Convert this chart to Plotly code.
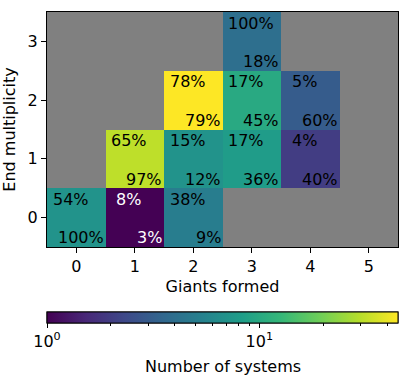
import math
import plotly.graph_objects as go

# ---- data ----
giants_formed = [0, 1, 2, 3, 4, 5]
end_multiplicity = [0, 1, 2, 3]

# number of systems per cell (rows = end multiplicity, cols = giants formed)
counts = [
    [7, 1, 5, None, None, None],
    [None, 31, 7, 8, 2, None],
    [None, None, 45, 10, 3, None],
    [None, None, None, 4, None, None],
]

# percentage within row (shown top-left)
row_pct = [
    ["54%", " 8%", "38%", None, None, None],
    [None, "65%", "15%", "17%", " 4%", None],
    [None, None, "78%", "17%", " 5%", None],
    [None, None, None, "100%", None, None],
]

# percentage within column (shown bottom-right)
col_pct = [
    ["100%", "3%", "9%", None, None, None],
    [None, "97%", "12%", "36%", "40%", None],
    [None, None, "79%", "45%", "60%", None],
    [None, None, None, "18%", None, None],
]

cbar_major = [1, 10]
cbar_minor = [2, 3, 4, 5, 6, 7, 8, 9, 20, 30, 40]
cbar_title = "Number of systems"

# ---- figure ----
FONT = "DejaVu Sans"
FS = 16

zlog = [[(math.log10(v) if v is not None else None) for v in row] for row in counts]
zmax = max(v for row in counts for v in row if v is not None)
zmax_log = math.log10(zmax)

major_vals = [math.log10(v) for v in cbar_major]
major_text = ["10<sup>%d</sup>" % round(v) for v in major_vals]
minor_vals = [math.log10(v) for v in cbar_minor]

cb_common = dict(
    orientation="h",
    x=0.5, xanchor="center", len=1.0, lenmode="fraction",
    y=-0.275, yanchor="top", ypad=0, xpad=0,
    thickness=11,
    outlinewidth=1, outlinecolor="black",
    tickangle=0, ticks="outside", tickcolor="black", tickwidth=1,
    tickfont=dict(family=FONT, size=FS, color="black"),
)

fig = go.Figure()
# main heatmap with major colorbar ticks and labels
fig.add_trace(go.Heatmap(
    x=giants_formed, y=end_multiplicity, z=zlog,
    colorscale="Viridis", zmin=0, zmax=zmax_log,
    hoverongaps=False,
    colorbar=dict(
        **cb_common,
        tickmode="array", tickvals=major_vals, ticktext=major_text,
        ticklen=5,
    ),
))
# identical overlay providing the colorbar's minor ticks
fig.add_trace(go.Heatmap(
    x=giants_formed, y=end_multiplicity, z=zlog,
    colorscale="Viridis", zmin=0, zmax=zmax_log,
    hoverinfo="skip",
    colorbar=dict(
        **cb_common,
        tickmode="array", tickvals=minor_vals,
        ticktext=[""] * len(minor_vals),
        ticklen=3,
    ),
))

annotations = []
for yi, yv in enumerate(end_multiplicity):
    for xi, xv in enumerate(giants_formed):
        c = counts[yi][xi]
        if c is None:
            continue
        color = "white" if math.log10(c) < 0.1 * zmax_log else "black"
        tl = row_pct[yi][xi]
        br = col_pct[yi][xi]
        if tl is not None:
            annotations.append(dict(
                x=xv - 0.44, y=yv + 0.31, xref="x", yref="y",
                text=tl.replace(" ", "\u00a0"), showarrow=False,
                xanchor="left", yanchor="middle",
                font=dict(family=FONT, size=FS, color=color)))
        if br is not None:
            annotations.append(dict(
                x=xv + 0.5, y=yv - 0.345, xref="x", yref="y",
                text=br, showarrow=False,
                xanchor="right", yanchor="middle",
                font=dict(family=FONT, size=FS, color=color)))

# colorbar title
annotations.append(dict(
    x=0.5, y=-0.51, xref="paper", yref="paper",
    text=cbar_title, showarrow=False,
    xanchor="center", yanchor="middle",
    font=dict(family=FONT, size=FS, color="black")))

fig.update_layout(
    width=411, height=376,
    margin=dict(l=47, r=13, t=12, b=129, autoexpand=False),
    plot_bgcolor="#808080", paper_bgcolor="white",
    font=dict(family=FONT, size=FS, color="black"),
    annotations=annotations,
    xaxis=dict(
        range=[-0.5, 5.5], tickmode="array", tickvals=giants_formed,
        ticks="outside", ticklen=5, tickcolor="black",
        showline=True, linecolor="black", linewidth=1, mirror=True,
        showgrid=False, zeroline=False, automargin=False,
        title=dict(text="Giants formed", standoff=5,
                   font=dict(family=FONT, size=FS)),
        tickfont=dict(family=FONT, size=FS),
    ),
    yaxis=dict(
        range=[-0.5, 3.5], tickmode="array", tickvals=end_multiplicity,
        ticks="outside", ticklen=5, tickcolor="black",
        showline=True, linecolor="black", linewidth=1, mirror=True,
        showgrid=False, zeroline=False, automargin=False,
        title=dict(text="End multiplicity", standoff=8,
                   font=dict(family=FONT, size=FS)),
        tickfont=dict(family=FONT, size=FS),
    ),
)

fig.write_html("out.html",
               config={"displayModeBar": False},
               post_script="document.body.style.margin='0';")
